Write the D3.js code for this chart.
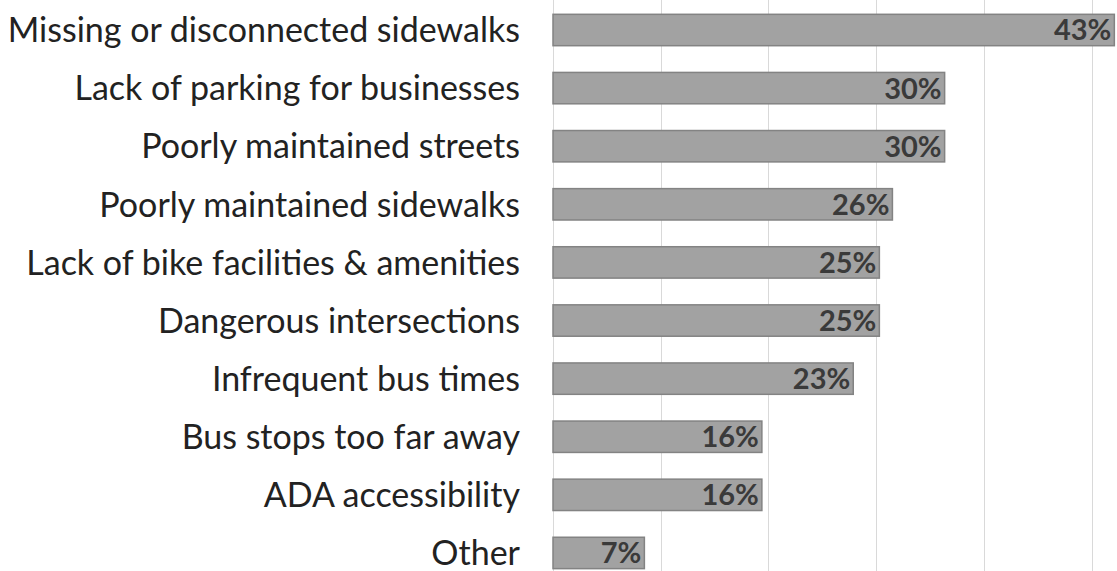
<!DOCTYPE html>
<html>
<head>
<meta charset="utf-8">
<script src="https://cdn.jsdelivr.net/npm/d3@7"></script>
<style>
  body { margin: 0; background: #fff; }
  svg { display: block; }
</style>
</head>
<body>
<div class="chart"></div>
<script>
// data
var categories = [
  "Missing or disconnected sidewalks",
  "Lack of parking for businesses",
  "Poorly maintained streets",
  "Poorly maintained sidewalks",
  "Lack of bike facilities & amenities",
  "Dangerous intersections",
  "Infrequent bus times",
  "Bus stops too far away",
  "ADA accessibility",
  "Other"
];
var values = [43, 30, 30, 26, 25, 25, 23, 16, 16, 7];
var gridTicks = [0, 8.25, 16.5, 24.75, 33, 41.25];

// setup
var w = 1117, h = 571;
var x0 = 553;

var xScale = d3.scaleLinear().domain([0, 43.05]).range([x0, 1115]);
var yScale = d3.scaleBand()
    .domain(categories)
    .range([0.95, 582])
    .paddingInner(0.46)
    .paddingOuter(0.23);

var svg = d3.select(".chart")
    .append("svg")
    .attr("width", w)
    .attr("height", h);

// gridlines
svg.append("g")
    .attr("class", "grid")
  .selectAll("line")
    .data(gridTicks)
    .enter()
    .append("line")
    .attr("x1", function(d) { return Math.round(xScale(d)) + 0.5; })
    .attr("x2", function(d) { return Math.round(xScale(d)) + 0.5; })
    .attr("y1", 0)
    .attr("y2", h)
    .style("stroke", "#d9d9d9")
    .style("stroke-width", 1);

// bars
svg.selectAll(".bar")
    .data(values)
    .enter()
    .append("rect")
    .attr("class", "bar")
    .attr("x", xScale(0))
    .attr("y", function(d, i) { return yScale(categories[i]); })
    .attr("width", function(d) { return xScale(d) - xScale(0); })
    .attr("height", yScale.bandwidth())
    .style("fill", "#a2a2a2")
    .style("stroke", "#838383")
    .style("stroke-width", 1.5);

// value labels
svg.selectAll(".val")
    .data(values)
    .enter()
    .append("text")
    .attr("class", "val")
    .attr("x", function(d) { return xScale(d) - 3; })
    .attr("y", function(d, i) { return yScale(categories[i]) + yScale.bandwidth() / 2; })
    .attr("dy", "0.36em")
    .style("text-anchor", "end")
    .style("font-family", "Lato, sans-serif")
    .style("font-size", "29px")
    .style("font-weight", "bold")
    .style("fill", "#3a3a3a")
    .text(function(d) { return d + "%"; });

// category labels
svg.selectAll(".cat")
    .data(categories)
    .enter()
    .append("text")
    .attr("class", "cat")
    .attr("x", 520)
    .attr("y", function(d) { return yScale(d) + yScale.bandwidth() / 2; })
    .attr("dy", "0.36em")
    .style("text-anchor", "end")
    .style("font-family", "Lato, sans-serif")
    .style("font-size", "34px")
    .style("fill", "#222")
    .text(function(d) { return d; });
</script>
</body>
</html>
